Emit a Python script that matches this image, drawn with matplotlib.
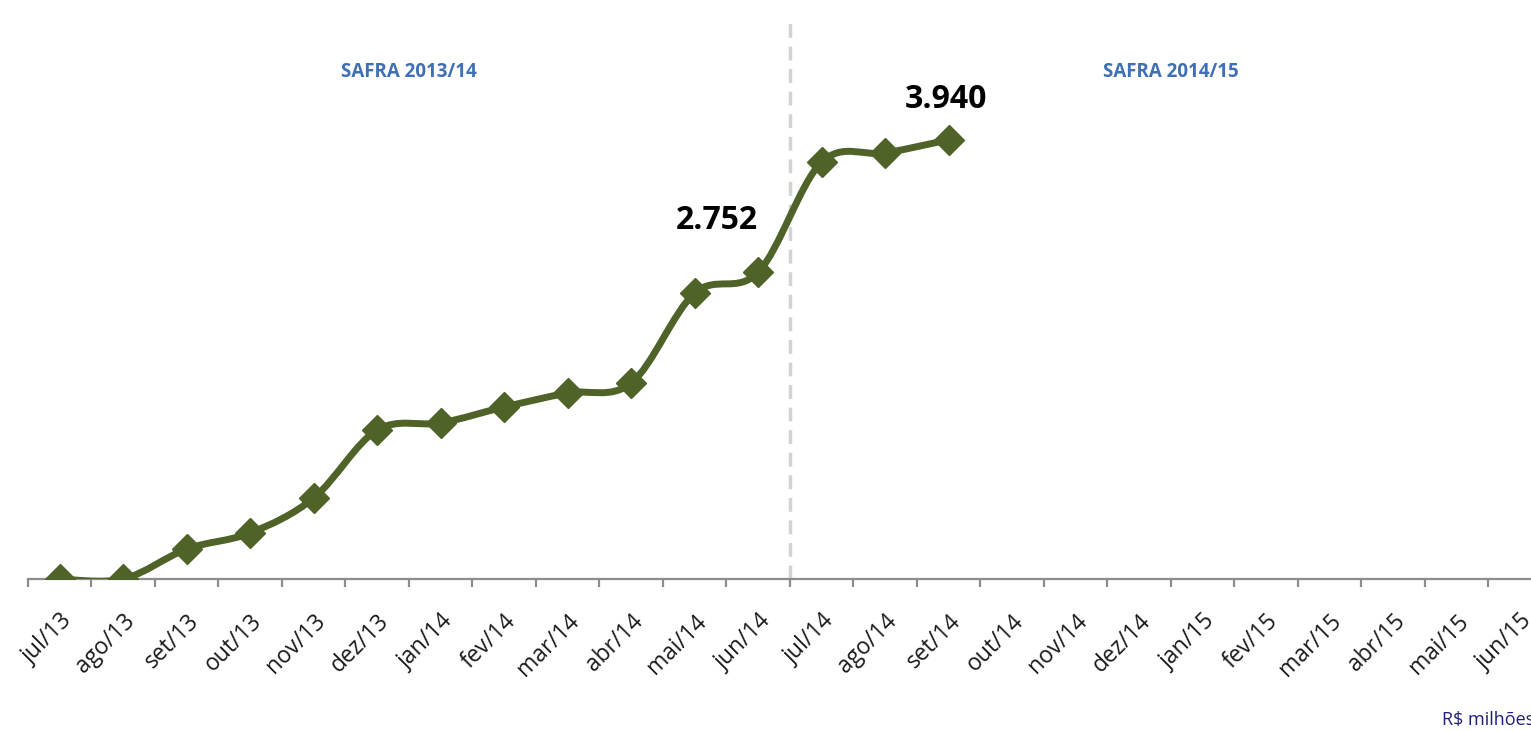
import matplotlib
matplotlib.use("Agg")
import matplotlib.pyplot as plt
from matplotlib.path import Path
from matplotlib.patches import PathPatch
import numpy as np

# meses (eixo x)
meses = ['jul/13', 'ago/13', 'set/13', 'out/13', 'nov/13', 'dez/13',
         'jan/14', 'fev/14', 'mar/14', 'abr/14', 'mai/14', 'jun/14',
         'jul/14', 'ago/14', 'set/14', 'out/14', 'nov/14', 'dez/14',
         'jan/15', 'fev/15', 'mar/15', 'abr/15', 'mai/15', 'jun/15']

# valores acumulados (R$ milhões)
valores = [0, 0, 269, 413, 727, 1337, 1400, 1543, 1669, 1758,
           2566, 2752, 3741, 3822, 3940]

rotulos = {11: '2.752', 14: '3.940'}
safras = ['SAFRA 2013/14', 'SAFRA 2014/15']

cor_linha = '#4f6228'

fig = plt.figure(figsize=(15.31, 7.31), dpi=100)
ax = fig.add_axes([28 / 1531, (731 - 579) / 731, 1 - 28 / 1531, (579 - 15) / 731])

x = np.arange(len(valores))
y = np.array(valores, dtype=float)

# linha suavizada (curvas de Bezier, como no Excel)
verts = [(x[0], y[0])]
codes = [Path.MOVETO]
n = len(x)
for i in range(n - 1):
    p0 = np.array([x[max(i - 1, 0)], y[max(i - 1, 0)]])
    p1 = np.array([x[i], y[i]])
    p2 = np.array([x[i + 1], y[i + 1]])
    p3 = np.array([x[min(i + 2, n - 1)], y[min(i + 2, n - 1)]])
    c1 = p1 + (p2 - p0) / 6
    c2 = p2 - (p3 - p1) / 6
    verts += [tuple(c1), tuple(c2), tuple(p2)]
    codes += [Path.CURVE4] * 3
ax.add_patch(PathPatch(Path(verts, codes), facecolor='none', edgecolor=cor_linha,
                       lw=5, capstyle='round', joinstyle='round', zorder=3))
ax.plot(x, y, linestyle='none', marker='D', markersize=15.5, color=cor_linha, zorder=4)

ax.set_xlim(-0.5, 23.17)
ax.set_ylim(0, 5060)

for s in ['top', 'right', 'left']:
    ax.spines[s].set_visible(False)
ax.spines['bottom'].set_color('#8c8c8c')
ax.spines['bottom'].set_linewidth(1.6)
ax.set_yticks([])

ax.set_xticks(np.arange(len(meses)))
ax.set_xticklabels(meses, rotation=45, ha='right', rotation_mode='anchor',
                   fontsize=16.5, family='Open Sans', color='#1a1a1a')
ax.set_xticks(np.arange(len(meses)) - 0.5, minor=True)
ax.tick_params(axis='x', which='major', length=0, pad=22)
ax.tick_params(axis='x', which='minor', length=6, width=1.6, color='#8c8c8c')

# divisão entre safras
ax.axvline(11.5, color='#d3d3d3', lw=2.5, linestyle=(0, (4, 2.5)), zorder=1)

# títulos das safras
ax.text(5.5, 4550, safras[0], ha='center', va='center', fontsize=13.5,
        fontweight='bold', family='Open Sans', color='#3f6fb5')
ax.text(17.5, 4550, safras[1], ha='center', va='center', fontsize=13.5,
        fontweight='bold', family='Open Sans', color='#3f6fb5')

# rótulos de dados
ax.text(11 - 0.65, valores[11] + 460, rotulos[11], ha='center', va='center',
        fontsize=23, fontweight='bold', family='Open Sans', color='black')
ax.text(14 - 0.05, valores[14] + 360, rotulos[14], ha='center', va='center',
        fontsize=23, fontweight='bold', family='Open Sans', color='black')

fig.text(1442 / 1531, 1 - 720 / 731, 'R$ milhões', ha='left', va='center',
         fontsize=13, family='Open Sans', color='#1f1f7a')

fig.savefig('out.png', dpi=100)
